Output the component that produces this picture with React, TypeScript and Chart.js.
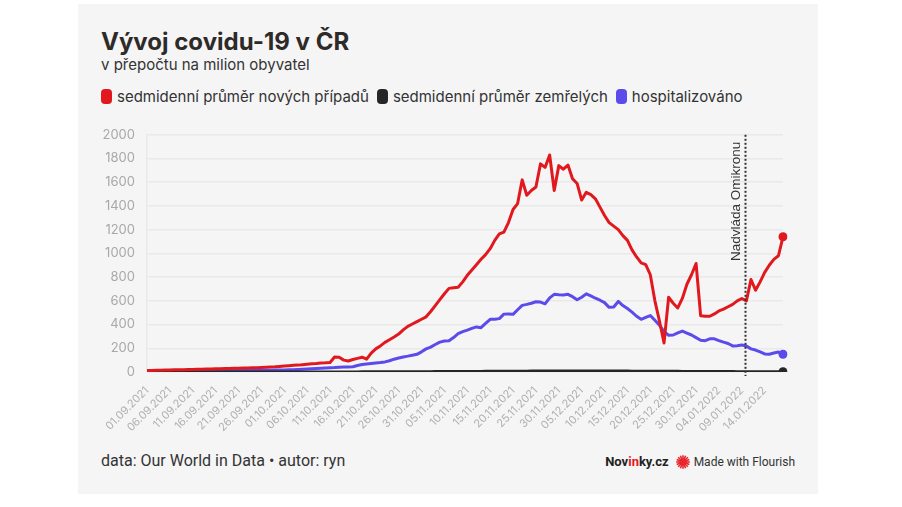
import React, { useEffect, useRef } from "react";
import { Chart, registerables } from "chart.js";

Chart.register(...registerables);

// ---------- data ----------
const START_DATE = "2021-09-01";
const DAY_COUNT = 140;
const dates: string[] = [];
{
  const d0 = new Date(START_DATE + "T12:00:00Z");
  for (let i = 0; i < DAY_COUNT; i++) {
    const d = new Date(d0.getTime() + i * 86400000);
    const dd = String(d.getUTCDate()).padStart(2, "0");
    const mm = String(d.getUTCMonth() + 1).padStart(2, "0");
    dates.push(`${dd}.${mm}.${d.getUTCFullYear()}`);
  }
}

const cases = [
  12, 13, 14, 15, 16, 17, 18, 19, 20, 21,
  22, 23, 24, 25, 26, 27, 28, 29, 30, 31,
  32, 33, 34, 35, 36, 38, 40, 42, 44, 47,
  50, 53, 56, 58, 62, 66, 70, 72, 75, 77,
  80, 126, 124, 100, 93, 105, 115, 125, 108, 160,
  195, 220, 250, 272, 295, 320, 355, 385, 405, 425,
  445, 465, 510, 560, 610, 660, 705, 710, 715, 760,
  815, 860, 905, 950, 990, 1040, 1110, 1165, 1180, 1260,
  1370, 1420, 1620, 1490, 1530, 1560, 1755, 1725, 1830, 1530,
  1740, 1710, 1745, 1630, 1590, 1450, 1515, 1495, 1460, 1390,
  1320, 1260, 1230, 1200, 1150, 1110, 1030, 970, 920, 905,
  820, 600, 430, 245, 630, 580, 540, 620, 740, 820,
  915, 475, 470, 470, 490, 515, 530, 550, 570, 600,
  620, 600, 780, 690, 760, 840, 900, 950, 980, 1140,
];

const deaths = [
  0.1, 0.1, 0.1, 0.1, 0.1, 0.1, 0.1, 0.1, 0.1, 0.1,
  0.1, 0.1, 0.2, 0.2, 0.2, 0.2, 0.2, 0.2, 0.2, 0.2,
  0.2, 0.2, 0.3, 0.3, 0.3, 0.3, 0.3, 0.3, 0.4, 0.4,
  0.4, 0.4, 0.5, 0.5, 0.5, 0.6, 0.6, 0.6, 0.7, 0.7,
  0.7, 0.8, 0.8, 0.9, 0.9, 1.0, 1.0, 1.1, 1.2, 1.3,
  1.4, 1.5, 1.6, 1.7, 1.8, 2.0, 2.1, 2.2, 2.4, 2.5,
  2.7, 2.9, 3.0, 3.2, 3.4, 3.6, 3.8, 4.0, 4.2, 4.4,
  4.6, 4.8, 5.0, 5.2, 5.4, 5.6, 5.8, 6.0, 6.2, 6.4,
  6.6, 6.8, 7.0, 7.2, 7.4, 7.6, 7.8, 8.0, 8.1, 8.2,
  8.3, 8.4, 8.4, 8.5, 8.5, 8.5, 8.4, 8.4, 8.3, 8.2,
  8.1, 8.0, 7.9, 7.8, 7.7, 7.5, 7.3, 7.1, 6.9, 6.7,
  6.5, 6.3, 6.1, 5.9, 5.7, 5.5, 5.3, 5.1, 4.9, 4.7,
  4.5, 4.3, 4.1, 3.9, 3.7, 3.5, 3.4, 3.3, 3.2, 3.1,
  3.0, 2.9, 2.8, 2.7, 2.6, 2.5, 2.4, 2.3, 2.2, 2.1,
];

const hospitalized = [
  6, 6, 7, 7, 7, 8, 8, 8, 9, 9,
  9, 10, 10, 10, 11, 11, 11, 12, 12, 12,
  13, 13, 13, 14, 14, 14, 15, 15, 16, 16,
  17, 18, 19, 21, 23, 25, 27, 29, 31, 33,
  35, 37, 40, 42, 43, 44, 55, 63, 68, 72,
  76, 80, 85, 95, 108, 118, 127, 134, 142, 149,
  170, 195, 210, 232, 252, 262, 264, 290, 323, 340,
  353, 368, 380, 374, 410, 444, 444, 450, 488, 490,
  486, 525, 562, 570, 580, 592, 590, 575, 625, 655,
  652, 650, 655, 635, 609, 630, 659, 642, 622, 605,
  585, 545, 548, 595, 560, 535, 505, 470, 444, 460,
  476, 436, 395, 340, 310, 312, 330, 345, 328, 312,
  290, 268, 264, 280, 280, 265, 252, 240, 220, 222,
  228, 220, 195, 185, 170, 152, 150, 160, 168, 150,
];

const SERIES_NAMES = [
  "sedmidenní průměr nových případů",
  "sedmidenní průměr zemřelých",
  "hospitalizováno",
];
const SERIES_COLORS = ["#e1191e", "#262626", "#5a4bea"];
const Y_TICK_STEP = 200;
const Y_MAX = 2000;
const X_LABEL_EVERY = 5;
const OMICRON_POSITION = 130.7; // day index
const OMICRON_LABEL = "Nadvláda Omikronu";

const FONT = "Inter, 'Noto Sans', sans-serif";

const omicronPlugin = {
  id: "omicron",
  afterDatasetsDraw(chart: any) {
    const { ctx, chartArea, scales } = chart;
    const x = Math.round(scales.x.getPixelForValue(OMICRON_POSITION)) + 0.5;
    ctx.save();
    ctx.strokeStyle = "#333";
    ctx.lineWidth = 2;
    ctx.setLineDash([2, 2]);
    ctx.beginPath();
    ctx.moveTo(x, chartArea.top);
    ctx.lineTo(x, chartArea.bottom + 4);
    ctx.stroke();
    ctx.setLineDash([]);
    ctx.translate(x - 6, chartArea.top + 7);
    ctx.rotate(-Math.PI / 2);
    ctx.fillStyle = "#333";
    ctx.font = "13.5px 'Liberation Sans', Arial, sans-serif";
    ctx.textAlign = "right";
    ctx.textBaseline = "alphabetic";
    ctx.fillText(OMICRON_LABEL, 0, 0);
    ctx.restore();
  },
};

function FlourishLogo() {
  const rays = [];
  for (let i = 0; i < 16; i++) {
    const a = (i / 16) * Math.PI * 2;
    rays.push(
      <line
        key={i}
        x1={7 + Math.cos(a) * 2.5}
        y1={7 + Math.sin(a) * 2.5}
        x2={7 + Math.cos(a) * 6.8}
        y2={7 + Math.sin(a) * 6.8}
        stroke="#e8262b"
        strokeWidth={1.6}
      />
    );
  }
  return (
    <svg width={14} height={14} viewBox="0 0 14 14" style={{ display: "block" }}>
      <circle cx={7} cy={7} r={3.5} fill="#e8262b" />
      {rays}
    </svg>
  );
}

export default function App() {
  const canvasRef = useRef<HTMLCanvasElement | null>(null);

  useEffect(() => {
    const canvas = canvasRef.current;
    if (!canvas) return;
    const lastIdx = DAY_COUNT - 1;
    const mk = (label: string, data: number[], color: string) => ({
      label,
      data,
      borderColor: color,
      backgroundColor: color,
      borderWidth: 3,
      tension: 0,
      borderJoinStyle: "round" as const,
      pointRadius: (c: any) => (c.dataIndex === lastIdx ? 4.5 : 0),
      pointHoverRadius: 0,
      pointBorderWidth: 0,
    });
    const chart = new Chart(canvas, {
      type: "line",
      data: {
        labels: dates,
        datasets: [
          mk(SERIES_NAMES[0], cases, SERIES_COLORS[0]),
          mk(SERIES_NAMES[1], deaths, SERIES_COLORS[1]),
          mk(SERIES_NAMES[2], hospitalized, SERIES_COLORS[2]),
        ],
      },
      options: {
        animation: false,
        responsive: false,
        devicePixelRatio: 1,
        layout: { padding: { top: 15, right: 35, left: 0, bottom: 0 } },
        plugins: {
          legend: { display: false },
          tooltip: { enabled: false },
          title: { display: false },
        },
        scales: {
          x: {
            type: "category",
            offset: false,
            grid: { display: false },
            border: { display: false },
            ticks: {
              autoSkip: false,
              minRotation: 45,
              maxRotation: 45,
              padding: 4,
              color: "#b0b0b0",
              font: { family: FONT, size: 11 },
              callback: (_v: any, i: number) => (i % X_LABEL_EVERY === 0 ? dates[i] : ""),
            },
            afterFit: (s: any) => {
              s.height = 73;
            },
          },
          y: {
            min: 0,
            max: Y_MAX,
            grid: { color: "#e9e9e9", lineWidth: 1.5, drawTicks: false },
            border: { display: true, color: "#e9e9e9", width: 1.5 },
            ticks: {
              stepSize: Y_TICK_STEP,
              padding: 12,
              color: "#a8a8a8",
              font: { family: FONT, size: 13 },
              callback: (v: any) => String(v),
            },
            afterFit: (s: any) => {
              s.width = 69;
            },
          },
        },
      },
      plugins: [omicronPlugin],
    });
    return () => chart.destroy();
  }, []);

  const legendItem = (i: number) => (
    <div key={i} style={{ display: "flex", alignItems: "center", marginRight: 8 }}>
      <div
        style={{
          width: 11,
          height: 15,
          borderRadius: 4,
          background: SERIES_COLORS[i],
          marginRight: 5,
        }}
      />
      <span>{SERIES_NAMES[i]}</span>
    </div>
  );

  return (
    <div
      style={{
        position: "absolute",
        left: 78,
        top: 4,
        width: 740,
        height: 490,
        background: "#f5f5f5",
        fontFamily: FONT,
        color: "#333",
      }}
    >
      <div
        style={{
          position: "absolute",
          left: 23,
          top: 26,
          fontSize: 24,
          lineHeight: "24px",
          fontWeight: 700,
          color: "#2e2a28",
          whiteSpace: "nowrap",
        }}
      >
        Vývoj covidu-19 v ČR
      </div>
      <div
        style={{
          position: "absolute",
          left: 23,
          top: 53,
          fontSize: 15,
          lineHeight: "15px",
          color: "#333",
          whiteSpace: "nowrap",
        }}
      >
        v přepočtu na milion obyvatel
      </div>
      <div
        style={{
          position: "absolute",
          left: 23,
          top: 84,
          fontSize: 15,
          lineHeight: "17px",
          color: "#333",
          display: "flex",
          whiteSpace: "nowrap",
        }}
      >
        {[0, 1, 2].map(legendItem)}
      </div>
      <canvas
        ref={canvasRef}
        width={740}
        height={330}
        style={{ position: "absolute", left: 0, top: 111, width: 740, height: 330 }}
      />
      <div
        style={{
          position: "absolute",
          left: 23,
          top: 448,
          fontSize: 16,
          lineHeight: "18px",
          fontFamily: "Roboto, sans-serif",
          color: "#333",
          whiteSpace: "nowrap",
        }}
      >
        data: Our World in Data • autor: ryn
      </div>
      <div
        style={{
          position: "absolute",
          right: 23,
          top: 449,
          display: "flex",
          alignItems: "center",
          whiteSpace: "nowrap",
          fontFamily: "Roboto, sans-serif",
          height: 17,
        }}
      >
        <span style={{ fontWeight: 700, fontSize: 13, color: "#222", marginRight: 7 }}>
          Nov<span style={{ color: "#e1191e" }}>in</span>ky.cz
        </span>
        <FlourishLogo />
        <span style={{ fontSize: 12, color: "#333", marginLeft: 4 }}>Made with Flourish</span>
      </div>
    </div>
  );
}
